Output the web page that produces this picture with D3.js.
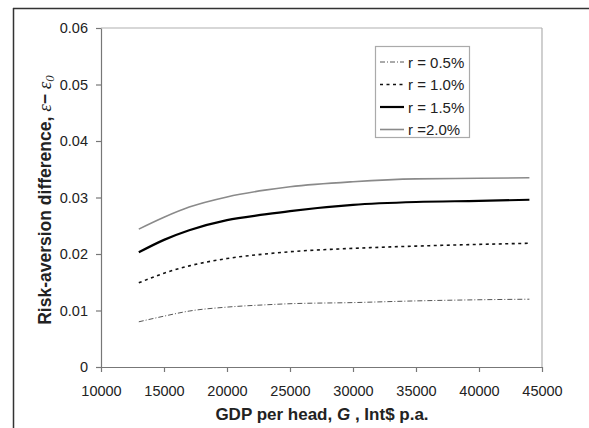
<!DOCTYPE html>
<html><head><meta charset="utf-8">
<script src="https://cdn.jsdelivr.net/npm/d3@7"></script>
<style>body{margin:0;background:#fff;} svg{display:block;font-family:"Liberation Sans",Arial,sans-serif;}</style>
</head><body>
<svg id="c" width="589" height="428"></svg>
<script>
const gdp = [13000, 15000, 17000, 20000, 23000, 25000, 30000, 35000, 40000, 44000];
const r05 = [0.0080, 0.0090, 0.0099, 0.0106, 0.0110, 0.0112, 0.0114, 0.0117, 0.0119, 0.0120];
const r10 = [0.0149, 0.0166, 0.0179, 0.0192, 0.0200, 0.0204, 0.0210, 0.0214, 0.0217, 0.0219];
const r15 = [0.0203, 0.0225, 0.0242, 0.0260, 0.0270, 0.0276, 0.0287, 0.0292, 0.0294, 0.0296];
const r20 = [0.0244, 0.0265, 0.0283, 0.0301, 0.0313, 0.0319, 0.0328, 0.0333, 0.0334, 0.0335];
const seriesNames = ["r = 0.5%", "r = 1.0%", "r = 1.5%", "r =2.0%"];
const xTicks = [10000, 15000, 20000, 25000, 30000, 35000, 40000, 45000];
const yTicks = [0, 0.01, 0.02, 0.03, 0.04, 0.05, 0.06];

const styles = [
  {stroke:"#555", width:1, dash:"5,2,1,2"},
  {stroke:"#111", width:1.6, dash:"3,3.5"},
  {stroke:"#000", width:2.2, dash:null},
  {stroke:"#8a8a8a", width:1.6, dash:null}
];
const seriesVals = [r05, r10, r15, r20];

const svg = d3.select("#c");
const L = 101, R = 542, T = 28, B = 367;
const x = d3.scaleLinear().domain([10000, 45000]).range([L, R]);
const y = d3.scaleLinear().domain([0, 0.06]).range([B, T]);

// outer frame
svg.append("line").attr("x1",13).attr("x2",589).attr("y1",8.5).attr("y2",8.5).attr("stroke","#333").attr("stroke-width",1.5);
svg.append("line").attr("x1",13.5).attr("x2",13.5).attr("y1",8).attr("y2",428).attr("stroke","#333").attr("stroke-width",1.5);

// plot box top/right
svg.append("line").attr("x1",L).attr("x2",R).attr("y1",T).attr("y2",T).attr("stroke","#b0b0b0").attr("stroke-width",1.2);
svg.append("line").attr("x1",R).attr("x2",R).attr("y1",T).attr("y2",B).attr("stroke","#b0b0b0").attr("stroke-width",1.2);

const yAxis = svg.append("g").attr("transform",`translate(${L},0)`)
  .call(d3.axisLeft(y).tickValues(yTicks).tickSize(5).tickSizeOuter(0).tickPadding(8)
    .tickFormat(d => d === 0 ? "0" : d3.format(".2f")(d)));
const xAxis = svg.append("g").attr("transform",`translate(0,${B})`)
  .call(d3.axisBottom(x).tickValues(xTicks).tickSize(5).tickSizeOuter(0).tickPadding(14)
    .tickFormat(d3.format("d")));
[yAxis, xAxis].forEach(a => {
  a.select(".domain").attr("stroke","#777").attr("stroke-width",1.2);
  a.selectAll(".tick line").attr("stroke","#777").attr("stroke-width",1.2);
  a.selectAll("text").attr("font-size",14.5).attr("fill","#222").attr("font-family","Liberation Sans, Arial, sans-serif");
});

const line = d3.line().x(d => x(d[0])).y(d => y(d[1])).curve(d3.curveMonotoneX);
seriesVals.forEach((vals, i) => {
  const s = styles[i];
  svg.append("path").datum(gdp.map((g, j) => [g, vals[j]]))
    .attr("d", line).attr("fill","none").attr("stroke",s.stroke).attr("stroke-width",s.width)
    .attr("stroke-dasharray", s.dash);
});

// legend
const lg = svg.append("g");
lg.append("rect").attr("x",375.5).attr("y",46.5).attr("width",94).attr("height",91)
  .attr("fill","#fff").attr("stroke","#aaa").attr("stroke-width",1.2);
seriesNames.forEach((n, i) => {
  const yy = 62 + i * 22.5;
  const s = styles[i];
  lg.append("line").attr("x1",380).attr("x2",404).attr("y1",yy).attr("y2",yy)
    .attr("stroke",s.stroke).attr("stroke-width",s.width).attr("stroke-dasharray",s.dash);
  lg.append("text").attr("x",408).attr("y",yy+5.5).attr("font-size",15).attr("fill","#222").text(n);
});

// axis titles
const xt = svg.append("text").attr("x",322).attr("y",420).attr("text-anchor","middle")
  .attr("font-size",17).attr("font-weight","bold").attr("fill","#222");
xt.append("tspan").text("GDP per head, ");
xt.append("tspan").attr("font-style","italic").text("G");
xt.append("tspan").text(" , Int$ p.a.");

const yt = svg.append("text").attr("transform","translate(51,200) rotate(-90)").attr("text-anchor","middle")
  .attr("font-size",17.5).attr("font-weight","bold").attr("fill","#222");
yt.append("tspan").text("Risk-aversion difference, ");
yt.append("tspan").attr("font-style","italic").attr("font-weight","normal").attr("font-family","Liberation Serif, serif").attr("font-size",19).text("ε");
yt.append("tspan").text("− ");
yt.append("tspan").attr("font-style","italic").attr("font-weight","normal").attr("font-family","Liberation Serif, serif").attr("font-size",19).text("ε");
yt.append("tspan").attr("font-style","italic").attr("font-weight","normal").attr("font-family","Liberation Serif, serif").attr("font-size",13).attr("dy",3).text("0");
</script>
</body></html>
